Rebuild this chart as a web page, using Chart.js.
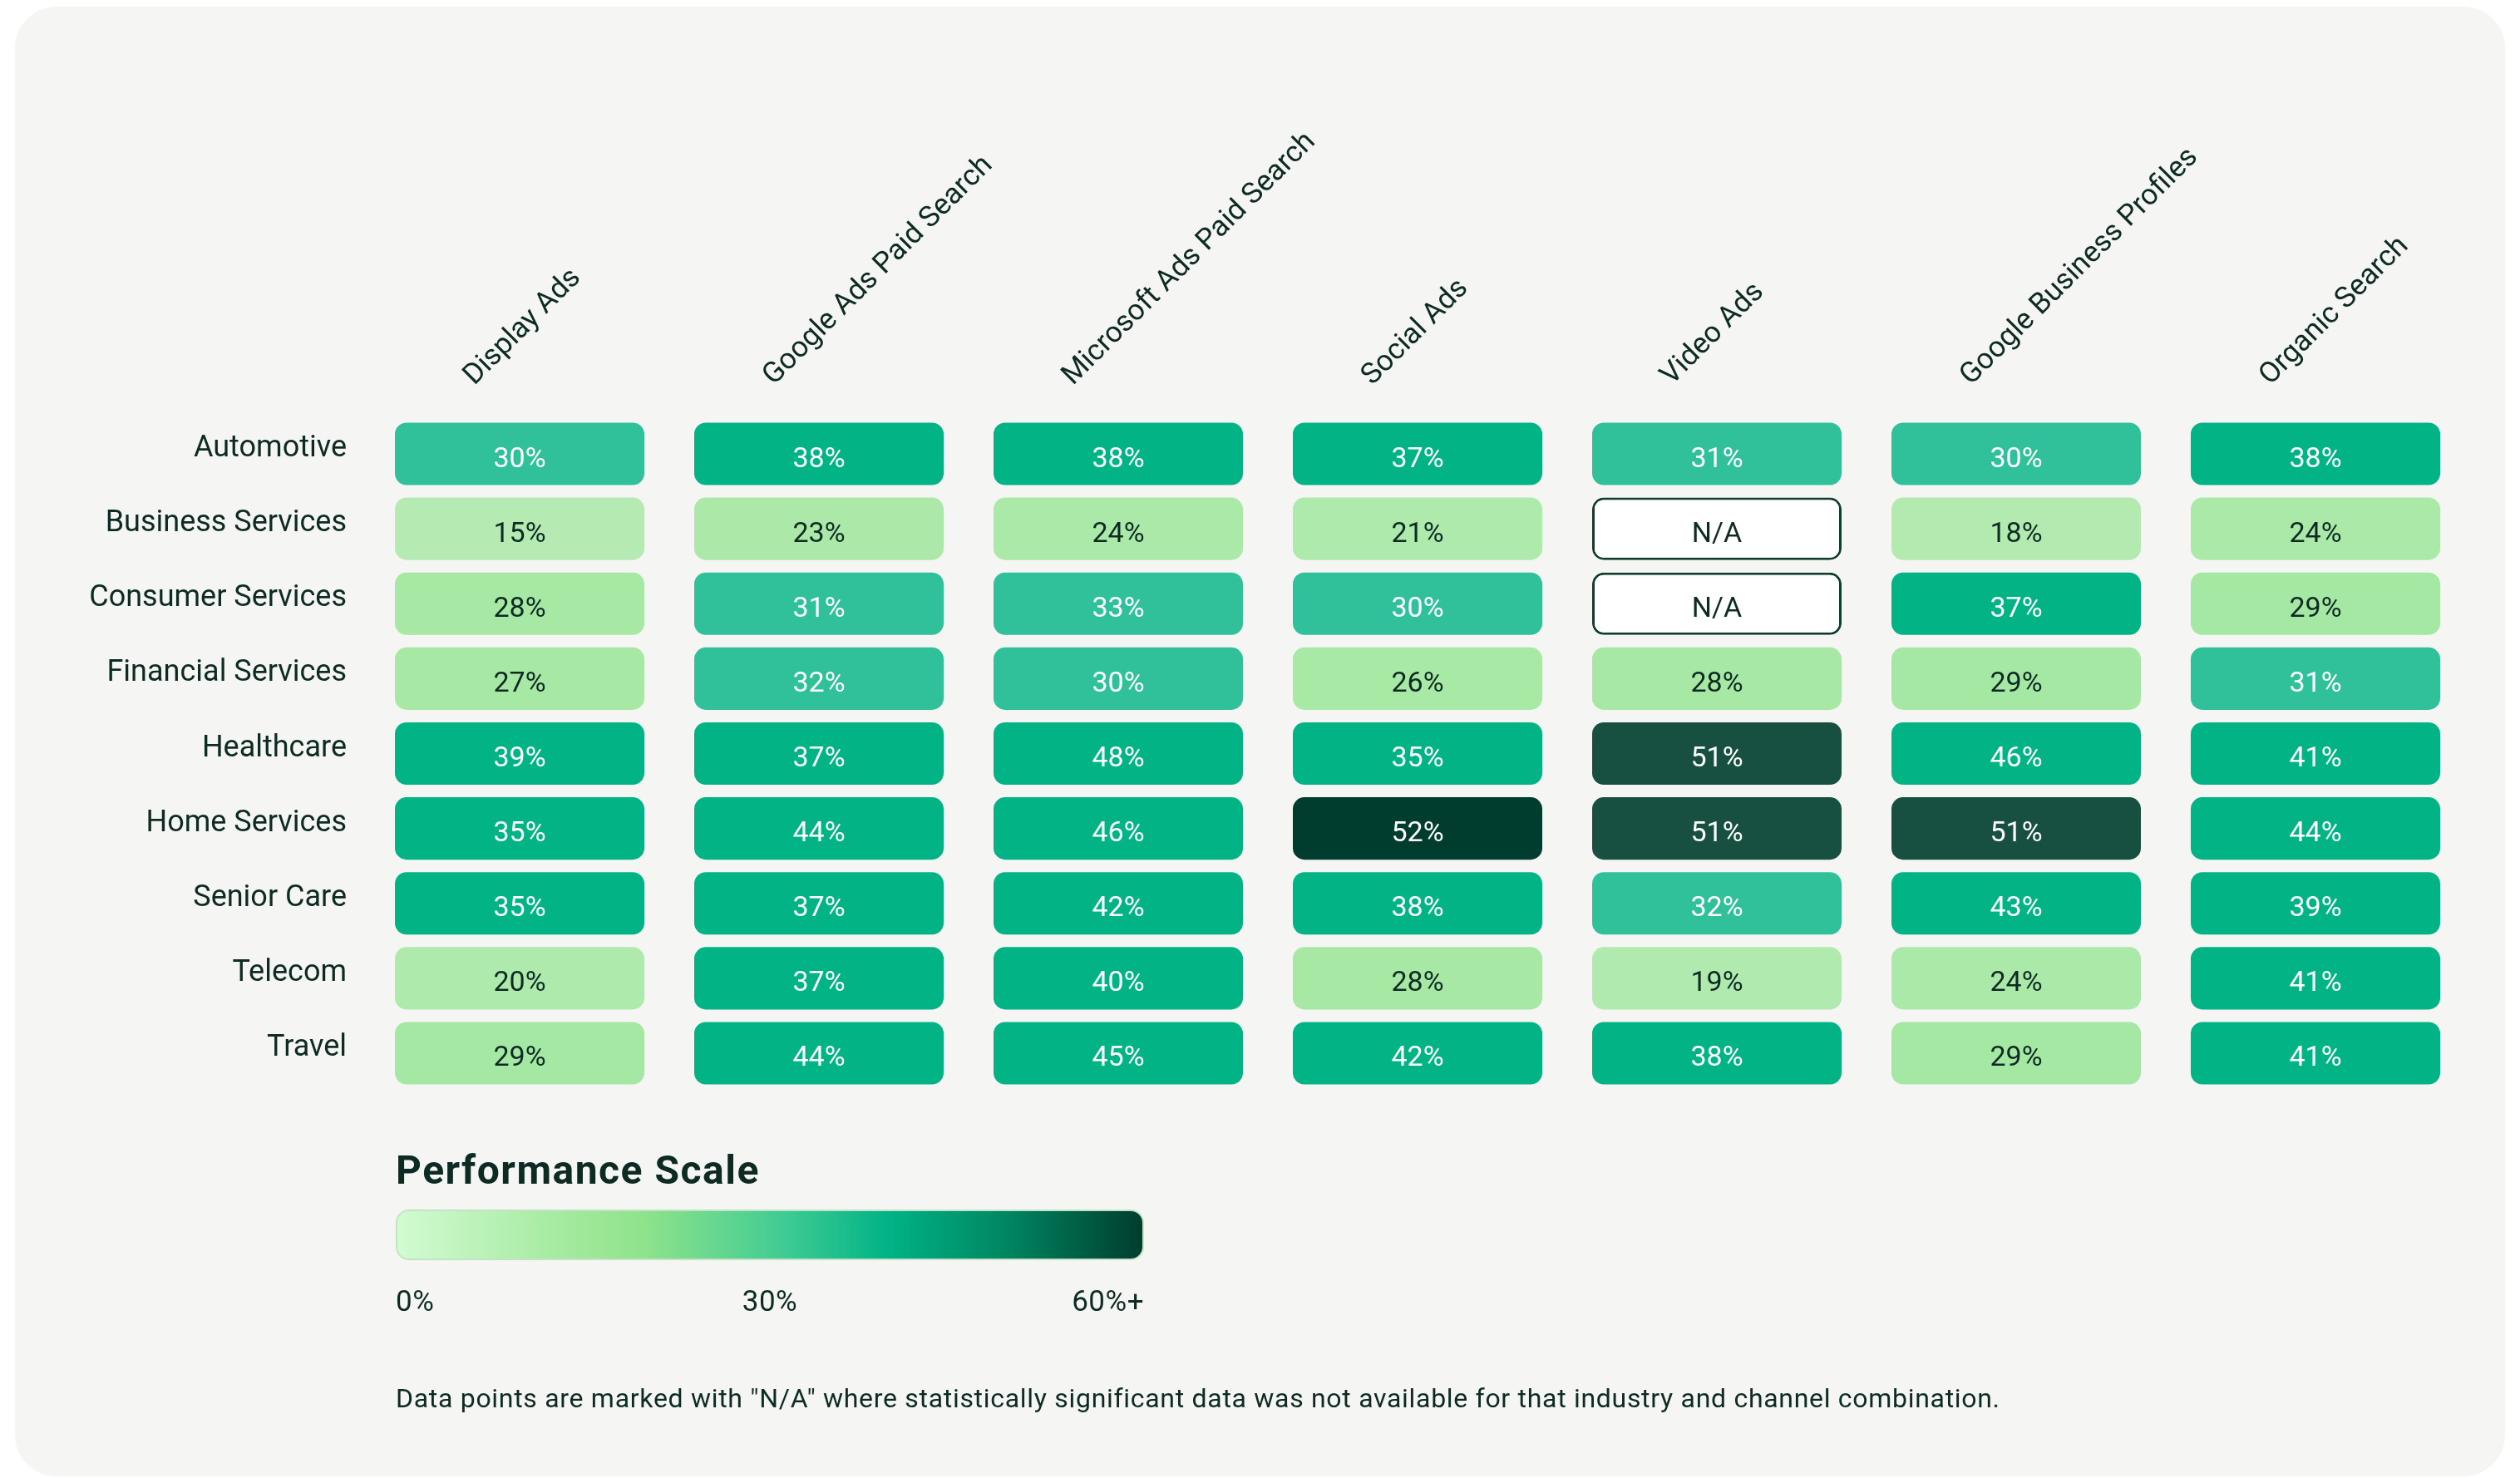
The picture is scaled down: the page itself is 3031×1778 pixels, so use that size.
<!DOCTYPE html>
<html>
<head>
<meta charset="utf-8">
<script src="https://cdn.jsdelivr.net/npm/chart.js@4.4.1/dist/chart.umd.min.js"></script>
<style>
html,body{margin:0;padding:0;background:#ffffff;}
body{width:3031px;height:1778px;position:relative;overflow:hidden;font-family:Roboto,"Noto Sans",sans-serif;color:#0e2b23;}
#card{position:absolute;left:18px;top:8px;width:2995px;height:1768px;border-radius:50px;background:#f5f5f3;}
#heat{position:absolute;left:0;top:0;}
.t{position:absolute;line-height:1;white-space:nowrap;}
#scaleTitle{left:476px;top:1384px;font-size:48px;font-weight:700;letter-spacing:1.5px;}
#scaleBar{position:absolute;left:476px;top:1455px;width:900px;height:61px;box-sizing:border-box;border:2px solid #c3e4c4;border-radius:16px;
background:linear-gradient(90deg,#d2fbd2 0%,#a4ea9f 22%,#8fe38b 33%,#3fcb93 52%,#00b386 66%,#008560 82%,#003d2e 100%);}
.st{top:1548px;font-size:35px;letter-spacing:0.5px;}
#note{left:476px;top:1666px;font-size:32px;letter-spacing:0.7px;}
</style>
</head>
<body>
<div id="card"></div>
<canvas id="heat" width="3031" height="1778"></canvas>

<div class="t" id="scaleTitle">Performance Scale</div>
<div id="scaleBar"></div>
<div class="t st" style="left:476px;">0%</div>
<div class="t st" style="left:926px;transform:translateX(-50%);">30%</div>
<div class="t st" style="left:1376px;transform:translateX(-100%);">60%+</div>
<div class="t" id="note">Data points are marked with "N/A" where statistically significant data was not available for that industry and channel combination.</div>

<script>
const industries = ["Automotive","Business Services","Consumer Services","Financial Services","Healthcare","Home Services","Senior Care","Telecom","Travel"];
const channels = ["Display Ads","Google Ads Paid Search","Microsoft Ads Paid Search","Social Ads","Video Ads","Google Business Profiles","Organic Search"];

// values per channel, in industry order (null = N/A)
const displayAds = [30,15,28,27,39,35,35,20,29];
const googleAdsPaidSearch = [38,23,31,32,37,44,37,37,44];
const microsoftAdsPaidSearch = [38,24,33,30,48,46,42,40,45];
const socialAds = [37,21,30,26,35,52,38,28,42];
const videoAds = [31,null,null,28,51,51,32,19,38];
const googleBusinessProfiles = [30,18,37,29,46,51,43,24,29];
const organicSearch = [38,24,29,31,41,44,39,41,41];

const channelValues = [displayAds,googleAdsPaidSearch,microsoftAdsPaidSearch,socialAds,videoAds,googleBusinessProfiles,organicSearch];

const dark = "#0e2b23";

function mix(a,b,t){
  const pa=[1,3,5].map(i=>parseInt(a.substr(i,2),16));
  const pb=[1,3,5].map(i=>parseInt(b.substr(i,2),16));
  return "rgb("+pa.map((v,i)=>Math.round(v+(pb[i]-v)*t)).join(",")+")";
}

function cellColor(v){
  if(v===null) return "#ffffff";
  if(v<30) return mix("#b5ebb2","#a5e8a3",Math.max(0,(v-15)/14));
  if(v<34) return "#30c19a";
  if(v<50) return "#02b386";
  if(v<52) return "#174f41";
  return "#003d2e";
}

const gap = 30/360;

const datasets = channelValues.map((vals,c)=>({
  label: channels[c],
  data: industries.map(()=>[c+gap,c+1-gap]),
  backgroundColor: ctx=>cellColor(vals[ctx.dataIndex]),
  borderColor: "#0f3d30",
  borderWidth: ctx=>vals[ctx.dataIndex]===null?3:0,
  borderRadius: 14,
  borderSkipped: false,
  grouped: false,
  barPercentage: 75/90,
  categoryPercentage: 1
}));

const cellText = {
  id: "cellText",
  afterDatasetsDraw(chart){
    const ctx = chart.ctx;
    ctx.save();
    ctx.font = "34px Roboto";
    ctx.textAlign = "center";
    ctx.textBaseline = "middle";
    chart.data.datasets.forEach((ds,di)=>{
      const meta = chart.getDatasetMeta(di);
      meta.data.forEach((bar,i)=>{
        const v = channelValues[di][i];
        ctx.fillStyle = (v===null||v<30)?dark:"#ffffff";
        ctx.fillText(v===null?"N/A":v+"%",(bar.x+bar.base)/2,bar.y+7);
      });
    });
    ctx.restore();
  }
};

new Chart(document.getElementById("heat"),{
  type:"bar",
  data:{labels:industries,datasets:datasets},
  options:{
    indexAxis:"y",
    responsive:false,
    animation:false,
    layout:{padding:{top:0,left:0,right:66,bottom:466}},
    plugins:{legend:{display:false},tooltip:{enabled:false}},
    scales:{
      x:{
        type:"linear",
        position:"top",
        min:0,
        max:channels.length,
        grid:{display:false},
        border:{display:false},
        afterFit:s=>{s.height=501;},
        afterBuildTicks:s=>{s.ticks=channels.map((c,i)=>({value:i+0.5}));},
        ticks:{
          autoSkip:false,
          minRotation:45,
          maxRotation:45,
          padding:20,
          labelOffset:-31,
          color:dark,
          font:{family:"Roboto",size:35},
          callback:(v,i)=>channels[i]
        }
      },
      y:{
        type:"category",
        grid:{display:false},
        border:{display:false},
        afterFit:s=>{s.width=445;},
        ticks:{
          padding:20,
          labelOffset:-6,
          color:dark,
          font:{family:"Roboto",size:36}
        }
      }
    }
  },
  plugins:[cellText]
});
</script>
</body>
</html>
